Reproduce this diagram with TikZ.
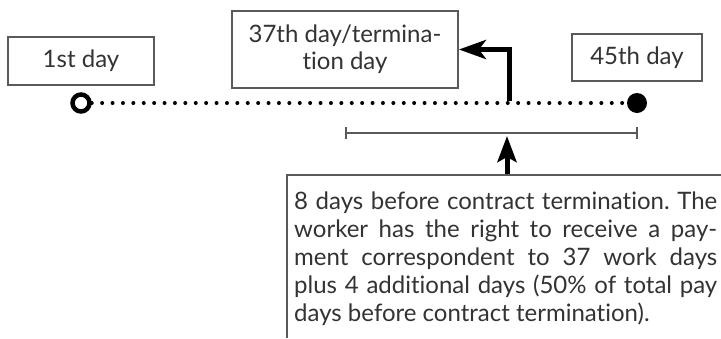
\documentclass[tikz,border=0pt]{standalone}
\usepackage{fontspec}
\setmainfont{Lato}[Ligatures=NoCommon]
\usetikzlibrary{arrows.meta,positioning}
\definecolor{ink}{HTML}{333333}
\definecolor{rule}{HTML}{5A5A5A}
\newcommand{\jline}[1]{\makebox[423pt][s]{#1}}
\frenchspacing

\begin{document}
\begin{tikzpicture}[x=1pt,y=-1pt,
    every node/.style={text=ink,font=\fontsize{24}{27}\selectfont},
    daybox/.style={draw=rule,line width=1.8pt,inner sep=0pt,align=center},
    thick arrow/.style={line width=5pt,-{Stealth[length=27pt,width=19pt,inset=7pt]}}]
  \useasboundingbox (0,0) rectangle (721,338);
  \path (81,61) node[daybox,minimum width=146pt,minimum height=48pt] (first) {1st day}
        (345,49.5) node[daybox,minimum width=226pt,minimum height=77pt] (termination) {37th day/termina-\\tion day}
        (637,57.5) node[daybox,minimum width=130pt,minimum height=47pt] (last) {45th day}
        (81,103) node[circle,draw=black,line width=4.5pt,minimum size=17pt,inner sep=0pt] (start) {}
        (637,103) node[circle,fill=black,minimum size=20pt,inner sep=0pt] (end) {};
  \coordinate (turn) at (509.5,101);
  \coordinate (ivleft) at (345,133);
  \coordinate (ivright) at (638,133);
  \coordinate (ivmid) at (507,136);
  \coordinate (boxtop) at (507,175);
  % timeline
  \draw [line width=4pt,line cap=round,dash pattern=on 0pt off 10.4pt] (start) -- (end);
  \draw [thick arrow] (turn) |- (termination);
  % interval of the last 8 days
  \draw [rule,line width=1.8pt,{Bar[width=12pt]}-{Bar[width=12pt]}] (ivleft) -- (ivright);
  \draw [line width=5pt,-{Stealth[length=26pt,width=19pt,inset=5pt]}] (boxtop) -- (ivmid);
  \draw [rule,line width=1.8pt] (287,338) |- (721,175);
  \node[anchor=north west,inner sep=0pt,align=left,font=\fontsize{24}{28}\selectfont] (note) at (294,192)
    {\jline{8 days before contract termination. The}\\
     \jline{worker has the right to receive a pay-}\\
     \jline{ment correspondent to 37 work days}\\
     \jline{plus 4 additional days (50\% of total pay}\\
     days before contract termination).};
\end{tikzpicture}
\end{document}
